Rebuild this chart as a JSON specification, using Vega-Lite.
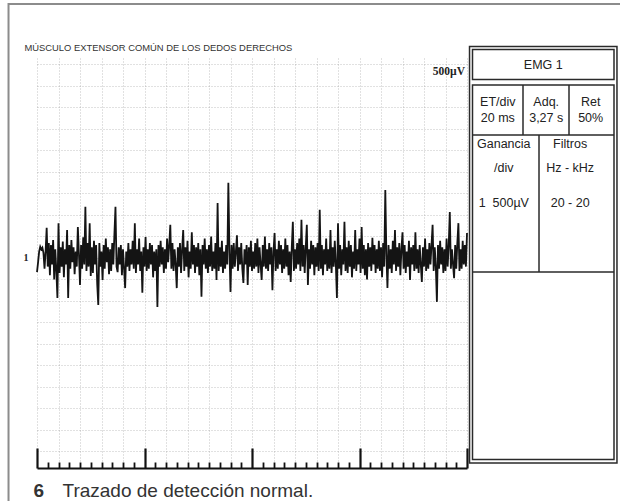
{
  "$schema": "https://vega.github.io/schema/vega-lite/v6.json",
  "width": 430,
  "height": 410,
  "autosize": {"type": "none"},
  "padding": {"left": 37, "top": 58, "right": 153, "bottom": 33},
  "background": "white",
  "config": {"view": {"stroke": null}, "font": "Liberation Sans"},
  "datasets": {
    "trace": [
{"t":0,"v":-330},{"t":1,"v":-100},{"t":2,"v":150},{"t":3,"v":260},{"t":4,"v":200},{"t":5,"v":240},{"t":6,"v":120},{"t":7,"v":-250},{"t":8,"v":150},{"t":9,"v":700},
{"t":10,"v":-200},{"t":11,"v":350},{"t":12,"v":-400},{"t":13,"v":300},{"t":14,"v":-150},{"t":15,"v":420},{"t":16,"v":-500},{"t":17,"v":200},{"t":18,"v":-300},{"t":19,"v":-930},
{"t":20,"v":810},{"t":21,"v":-350},{"t":22,"v":250},{"t":23,"v":-200},{"t":24,"v":380},{"t":25,"v":-450},{"t":26,"v":200},{"t":27,"v":-150},{"t":28,"v":650},{"t":29,"v":-930},
{"t":30,"v":300},{"t":31,"v":-250},{"t":32,"v":420},{"t":33,"v":-100},{"t":34,"v":250},{"t":35,"v":-380},{"t":36,"v":150},{"t":37,"v":-200},{"t":38,"v":720},{"t":39,"v":100},
{"t":40,"v":-630},{"t":41,"v":300},{"t":42,"v":-250},{"t":43,"v":480},{"t":44,"v":-150},{"t":45,"v":1190},{"t":46,"v":-300},{"t":47,"v":350},{"t":48,"v":-200},{"t":49,"v":810},
{"t":50,"v":-420},{"t":51,"v":250},{"t":52,"v":-350},{"t":53,"v":400},{"t":54,"v":-150},{"t":55,"v":300},{"t":56,"v":-600},{"t":57,"v":-1090},{"t":58,"v":350},{"t":59,"v":-200},
{"t":60,"v":150},{"t":61,"v":-510},{"t":62,"v":300},{"t":63,"v":-250},{"t":64,"v":450},{"t":65,"v":-100},{"t":66,"v":250},{"t":67,"v":-380},{"t":68,"v":200},{"t":69,"v":-300},
{"t":70,"v":350},{"t":71,"v":-150},{"t":72,"v":550},{"t":73,"v":1190},{"t":74,"v":-200},{"t":75,"v":-330},{"t":76,"v":250},{"t":77,"v":-150},{"t":78,"v":300},{"t":79,"v":-400},
{"t":80,"v":200},{"t":81,"v":-250},{"t":82,"v":-700},{"t":83,"v":150},{"t":84,"v":-200},{"t":85,"v":350},{"t":86,"v":-300},{"t":87,"v":200},{"t":88,"v":-150},{"t":89,"v":400},
{"t":90,"v":-250},{"t":91,"v":810},{"t":92,"v":-350},{"t":93,"v":200},{"t":94,"v":-150},{"t":95,"v":450},{"t":96,"v":-300},{"t":97,"v":150},{"t":98,"v":-810},{"t":99,"v":250},
{"t":100,"v":-200},{"t":101,"v":490},{"t":102,"v":-300},{"t":103,"v":200},{"t":104,"v":-250},{"t":105,"v":350},{"t":106,"v":-150},{"t":107,"v":300},{"t":108,"v":-450},{"t":109,"v":150},
{"t":110,"v":-300},{"t":111,"v":200},{"t":112,"v":-1140},{"t":113,"v":300},{"t":114,"v":-200},{"t":115,"v":400},{"t":116,"v":-150},{"t":117,"v":250},{"t":118,"v":-350},{"t":119,"v":200},
{"t":120,"v":-250},{"t":121,"v":450},{"t":122,"v":-100},{"t":123,"v":300},{"t":124,"v":770},{"t":125,"v":-250},{"t":126,"v":350},{"t":127,"v":-300},{"t":128,"v":200},{"t":129,"v":-150},
{"t":130,"v":-700},{"t":131,"v":250},{"t":132,"v":-200},{"t":133,"v":350},{"t":134,"v":-350},{"t":135,"v":200},{"t":136,"v":650},{"t":137,"v":-300},{"t":138,"v":250},{"t":139,"v":-200},
{"t":140,"v":400},{"t":141,"v":-450},{"t":142,"v":150},{"t":143,"v":-250},{"t":144,"v":600},{"t":145,"v":-150},{"t":146,"v":300},{"t":147,"v":-350},{"t":148,"v":250},{"t":149,"v":-200},
{"t":150,"v":350},{"t":151,"v":-400},{"t":152,"v":200},{"t":153,"v":-900},{"t":154,"v":300},{"t":155,"v":-150},{"t":156,"v":450},{"t":157,"v":-250},{"t":158,"v":200},{"t":159,"v":-350},
{"t":160,"v":300},{"t":161,"v":-200},{"t":162,"v":500},{"t":163,"v":-300},{"t":164,"v":150},{"t":165,"v":-250},{"t":166,"v":350},{"t":167,"v":-510},{"t":168,"v":1280},{"t":169,"v":-300},
{"t":170,"v":250},{"t":171,"v":-200},{"t":172,"v":400},{"t":173,"v":-350},{"t":174,"v":150},{"t":175,"v":-250},{"t":176,"v":300},{"t":177,"v":-150},{"t":178,"v":1750},{"t":179,"v":200},
{"t":180,"v":-790},{"t":181,"v":300},{"t":182,"v":-250},{"t":183,"v":350},{"t":184,"v":-200},{"t":185,"v":150},{"t":186,"v":530},{"t":187,"v":-300},{"t":188,"v":250},{"t":189,"v":-150},
{"t":190,"v":350},{"t":191,"v":-250},{"t":192,"v":-580},{"t":193,"v":200},{"t":194,"v":-150},{"t":195,"v":300},{"t":196,"v":-630},{"t":197,"v":250},{"t":198,"v":-200},{"t":199,"v":400},
{"t":200,"v":-300},{"t":201,"v":150},{"t":202,"v":-250},{"t":203,"v":350},{"t":204,"v":-200},{"t":205,"v":450},{"t":206,"v":-350},{"t":207,"v":250},{"t":208,"v":-150},{"t":209,"v":-510},
{"t":210,"v":300},{"t":211,"v":-200},{"t":212,"v":500},{"t":213,"v":-250},{"t":214,"v":200},{"t":215,"v":-300},{"t":216,"v":350},{"t":217,"v":-150},{"t":218,"v":250},{"t":219,"v":-750},
{"t":220,"v":150},{"t":221,"v":580},{"t":222,"v":-300},{"t":223,"v":200},{"t":224,"v":-250},{"t":225,"v":400},{"t":226,"v":-150},{"t":227,"v":300},{"t":228,"v":-350},{"t":229,"v":200},
{"t":230,"v":-250},{"t":231,"v":450},{"t":232,"v":-200},{"t":233,"v":300},{"t":234,"v":-400},{"t":235,"v":150},{"t":236,"v":-560},{"t":237,"v":250},{"t":238,"v":840},{"t":239,"v":-300},
{"t":240,"v":200},{"t":241,"v":-250},{"t":242,"v":350},{"t":243,"v":-150},{"t":244,"v":450},{"t":245,"v":-300},{"t":246,"v":890},{"t":247,"v":-200},{"t":248,"v":300},{"t":249,"v":-350},
{"t":250,"v":250},{"t":251,"v":770},{"t":252,"v":-630},{"t":253,"v":200},{"t":254,"v":-250},{"t":255,"v":400},{"t":256,"v":-150},{"t":257,"v":300},{"t":258,"v":-400},{"t":259,"v":250},
{"t":260,"v":-200},{"t":261,"v":350},{"t":262,"v":-300},{"t":263,"v":1120},{"t":264,"v":-250},{"t":265,"v":300},{"t":266,"v":-400},{"t":267,"v":200},{"t":268,"v":-150},{"t":269,"v":450},
{"t":270,"v":-300},{"t":271,"v":200},{"t":272,"v":-250},{"t":273,"v":650},{"t":274,"v":-350},{"t":275,"v":250},{"t":276,"v":-200},{"t":277,"v":400},{"t":278,"v":-150},{"t":279,"v":-930},
{"t":280,"v":810},{"t":281,"v":-250},{"t":282,"v":300},{"t":283,"v":-400},{"t":284,"v":200},{"t":285,"v":-150},{"t":286,"v":840},{"t":287,"v":-300},{"t":288,"v":250},{"t":289,"v":-350},
{"t":290,"v":400},{"t":291,"v":-200},{"t":292,"v":300},{"t":293,"v":-450},{"t":294,"v":150},{"t":295,"v":-250},{"t":296,"v":650},{"t":297,"v":-300},{"t":298,"v":200},{"t":299,"v":-150},
{"t":300,"v":450},{"t":301,"v":-350},{"t":302,"v":720},{"t":303,"v":-250},{"t":304,"v":300},{"t":305,"v":-400},{"t":306,"v":200},{"t":307,"v":-500},{"t":308,"v":350},{"t":309,"v":-200},
{"t":310,"v":250},{"t":311,"v":-300},{"t":312,"v":470},{"t":313,"v":-150},{"t":314,"v":300},{"t":315,"v":-350},{"t":316,"v":200},{"t":317,"v":-250},{"t":318,"v":400},{"t":319,"v":-300},
{"t":320,"v":250},{"t":321,"v":-450},{"t":322,"v":350},{"t":323,"v":-200},{"t":324,"v":1580},{"t":325,"v":100},{"t":326,"v":-700},{"t":327,"v":300},{"t":328,"v":-250},{"t":329,"v":200},
{"t":330,"v":-350},{"t":331,"v":400},{"t":332,"v":-150},{"t":333,"v":650},{"t":334,"v":-300},{"t":335,"v":250},{"t":336,"v":-200},{"t":337,"v":350},{"t":338,"v":-400},{"t":339,"v":200},
{"t":340,"v":600},{"t":341,"v":-250},{"t":342,"v":300},{"t":343,"v":-350},{"t":344,"v":150},{"t":345,"v":-200},{"t":346,"v":400},{"t":347,"v":-510},{"t":348,"v":250},{"t":349,"v":-150},
{"t":350,"v":300},{"t":351,"v":-300},{"t":352,"v":600},{"t":353,"v":-250},{"t":354,"v":200},{"t":355,"v":-350},{"t":356,"v":300},{"t":357,"v":-150},{"t":358,"v":-560},{"t":359,"v":250},
{"t":360,"v":-200},{"t":361,"v":450},{"t":362,"v":-300},{"t":363,"v":200},{"t":364,"v":-250},{"t":365,"v":350},{"t":366,"v":-150},{"t":367,"v":300},{"t":368,"v":770},{"t":369,"v":-300},
{"t":370,"v":250},{"t":371,"v":-200},{"t":372,"v":-1020},{"t":373,"v":300},{"t":374,"v":-250},{"t":375,"v":400},{"t":376,"v":-150},{"t":377,"v":250},{"t":378,"v":-350},{"t":379,"v":200},
{"t":380,"v":-300},{"t":381,"v":450},{"t":382,"v":-200},{"t":383,"v":300},{"t":384,"v":1070},{"t":385,"v":-250},{"t":386,"v":200},{"t":387,"v":-150},{"t":388,"v":-470},{"t":389,"v":300},
{"t":390,"v":-250},{"t":391,"v":350},{"t":392,"v":810},{"t":393,"v":-300},{"t":394,"v":200},{"t":395,"v":-250},{"t":396,"v":400},{"t":397,"v":-150},{"t":398,"v":300},{"t":399,"v":-200},
{"t":400,"v":580}
    ],
    "frame": [{"x0": -327.9, "x1": 110, "y0": -11.1, "y1": 115}],
    "boxes": [
      {"x0": -2.1, "x1": 102.1, "y0": -0.73, "y1": 100.85},
      {"x0": 0, "x1": 100, "y0": 0, "y1": 7.32},
      {"x0": 0, "x1": 100, "y0": 8.66, "y1": 100}
    ],
    "dividers": [
      {"x0": 0, "x1": 100, "y0": 20.85, "y1": 20.85},
      {"x0": 0, "x1": 100, "y0": 54.27, "y1": 54.27},
      {"x0": 35.69, "x1": 35.69, "y0": 8.66, "y1": 20.85},
      {"x0": 68.2, "x1": 68.2, "y0": 8.66, "y1": 20.85},
      {"x0": 47.0, "x1": 47.0, "y0": 20.85, "y1": 54.27}
    ],
    "cells": [
      {"label": "EMG 1", "cx": 50, "cy": 3.78},
      {"label": "ET/div", "cx": 17.9, "cy": 12.8},
      {"label": "20 ms", "cx": 17.9, "cy": 16.7},
      {"label": "Adq.", "cx": 52.1, "cy": 12.8},
      {"label": "3,27 s", "cx": 52.1, "cy": 16.7},
      {"label": "Ret", "cx": 83.5, "cy": 12.8},
      {"label": "50%", "cx": 83.5, "cy": 16.7},
      {"label": "Ganancia", "cx": 22.1, "cy": 23.1},
      {"label": "/div", "cx": 22.1, "cy": 29.0},
      {"label": "1\u00a0\u00a0500µV", "cx": 22.1, "cy": 37.5},
      {"label": "Filtros", "cx": 69.0, "cy": 23.1},
      {"label": "Hz - kHz", "cx": 69.0, "cy": 29.0},
      {"label": "20 - 20", "cx": 69.0, "cy": 37.5}
    ],
    "scaleNote": [{"label": "500µV"}]
  },
  "resolve": {"scale": {"x": "independent", "y": "independent"}, "axis": {"x": "independent", "y": "independent"}},
  "layer": [
    {
      "data": {"name": "trace"},
      "mark": {"type": "line", "color": "#141414", "strokeWidth": 1.8},
      "encoding": {
        "x": {
          "field": "t", "type": "quantitative",
          "scale": {"domain": [0, 400], "nice": false, "zero": false},
          "axis": {
            "orient": "bottom",
            "values": [0,10,20,30,40,50,60,70,80,90,100,110,120,130,140,150,160,170,180,190,200,210,220,230,240,250,260,270,280,290,300,310,320,330,340,350,360,370,380,390,400],
            "labels": false,
            "domain": true, "domainColor": "#111", "domainWidth": 2,
            "ticks": true, "tickColor": "#111",
            "tickSize": {"condition": {"test": "datum.value % 100 === 0", "value": -20}, "value": -6},
            "tickWidth": {"condition": {"test": "datum.value % 100 === 0", "value": 2.2}, "value": 1.8},
            "grid": true, "gridColor": "#8a8a8a", "gridDash": [1, 2],
            "gridOpacity": {"condition": {"test": "datum.value % 20 === 0", "value": 0.5}, "value": 0},
            "title": "Trazado de detección normal.",
            "titleX": 25, "titleY": 28, "titleAlign": "left", "titleAnchor": "start", "titleBaseline": "alphabetic",
            "titleFont": "Liberation Sans", "titleFontSize": 19, "titleFontWeight": "normal", "titleColor": "#333"
          }
        },
        "y": {
          "field": "v", "type": "quantitative",
          "scale": {"domain": [-4884, 4651], "nice": false, "zero": false},
          "axis": {
            "orient": "left",
            "values": [-4500,-4000,-3500,-3000,-2500,-2000,-1500,-1000,-500,0,500,1000,1500,2000,2500,3000,3500,4000,4500],
            "grid": true, "gridColor": "#8a8a8a", "gridDash": [1, 2], "gridOpacity": 0.5,
            "domain": false, "ticks": false,
            "labelExpr": "datum.value === 0 ? '1' : ''",
            "labelOverlap": false,
            "labelFont": "Liberation Serif", "labelFontWeight": "bold", "labelFontSize": 10, "labelColor": "#222", "labelPadding": 9,
            "title": "MÚSCULO EXTENSOR COMÚN DE LOS DEDOS DERECHOS",
            "titleAngle": 0, "titleAlign": "left", "titleBaseline": "alphabetic", "titleX": -13, "titleY": -8,
            "titleFont": "Liberation Sans", "titleFontSize": 9.4, "titleFontWeight": "normal", "titleColor": "#333"
          }
        }
      }
    },
    {
      "data": {"name": "scaleNote"},
      "mark": {"type": "text", "align": "right", "baseline": "middle", "dx": -2, "font": "Liberation Serif", "fontWeight": "bold", "fontSize": 11.5, "color": "#222"},
      "encoding": {
        "text": {"field": "label", "type": "nominal"},
        "x": {
          "datum": 400, "type": "quantitative",
          "scale": {"domain": [0, 400], "nice": false, "zero": false},
          "axis": {
            "orient": "bottom", "labels": false, "ticks": false, "domain": false, "grid": false,
            "title": "6", "titleX": -4, "titleY": 28, "titleAlign": "left", "titleAnchor": "start", "titleBaseline": "alphabetic",
            "titleFont": "Liberation Sans", "titleFontSize": 19, "titleFontWeight": "bold", "titleColor": "#333"
          }
        },
        "y": {"datum": 4326, "type": "quantitative", "scale": {"domain": [-4884, 4651], "nice": false, "zero": false}, "axis": null}
      }
    },
    {
      "layer": [
        {
          "data": {"name": "frame"},
          "mark": {"type": "rect", "filled": false, "color": "#8c8c8c", "strokeWidth": 2},
          "encoding": {
            "x": {"field": "x0", "type": "quantitative", "scale": {"domain": [0, 100], "range": [435.5, 577], "nice": false, "zero": false}, "axis": null},
            "x2": {"field": "x1"},
            "y": {"field": "y0", "type": "quantitative", "scale": {"domain": [0, 100], "range": [-8.5, 401.5], "nice": false, "zero": false}, "axis": null},
            "y2": {"field": "y1"}
          }
        },
        {
          "data": {"name": "boxes"},
          "mark": {"type": "rect", "filled": false, "color": "#2a2a2a", "strokeWidth": 1.5},
          "encoding": {
            "x": {"field": "x0", "type": "quantitative", "scale": {"domain": [0, 100], "range": [435.5, 577], "nice": false, "zero": false}, "axis": null},
            "x2": {"field": "x1"},
            "y": {"field": "y0", "type": "quantitative", "scale": {"domain": [0, 100], "range": [-8.5, 401.5], "nice": false, "zero": false}, "axis": null},
            "y2": {"field": "y1"}
          }
        },
        {
          "data": {"name": "dividers"},
          "mark": {"type": "rule", "color": "#2a2a2a", "strokeWidth": 1.5},
          "encoding": {
            "x": {"field": "x0", "type": "quantitative", "scale": {"domain": [0, 100], "range": [435.5, 577], "nice": false, "zero": false}, "axis": null},
            "x2": {"field": "x1"},
            "y": {"field": "y0", "type": "quantitative", "scale": {"domain": [0, 100], "range": [-8.5, 401.5], "nice": false, "zero": false}, "axis": null},
            "y2": {"field": "y1"}
          }
        },
        {
          "data": {"name": "cells"},
          "mark": {"type": "text", "align": "center", "baseline": "middle", "font": "Liberation Sans", "fontSize": 12.5, "color": "#222"},
          "encoding": {
            "x": {"field": "cx", "type": "quantitative", "scale": {"domain": [0, 100], "range": [435.5, 577], "nice": false, "zero": false}, "axis": null},
            "y": {"field": "cy", "type": "quantitative", "scale": {"domain": [0, 100], "range": [-8.5, 401.5], "nice": false, "zero": false}, "axis": null},
            "text": {"field": "label", "type": "nominal"}
          }
        }
      ]
    }
  ]
}
